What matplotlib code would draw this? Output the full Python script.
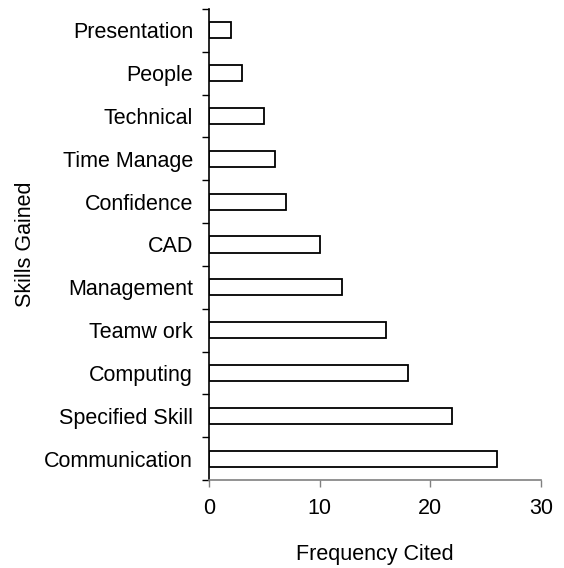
import numpy as np
import matplotlib.pyplot as plt

# --- DATA ---
skills = ["Communication", "Specified Skill", "Computing", "Teamw ork", "Management",
          "CAD", "Confidence", "Time Manage", "Technical", "People", "Presentation"]
freq = [26, 22, 18, 16, 12, 10, 7, 6, 5, 3, 2]

plt.rcParams['font.family'] = ['Liberation Sans', 'DejaVu Sans']

fig = plt.figure(figsize=(5.64, 5.68), dpi=100)
ax = fig.add_axes([209/564, 1-480/568, 332/564, 471/568])

y = np.arange(len(skills))
ax.barh(y, freq, height=0.375, color='white', edgecolor='black', linewidth=1.3)

ax.set_xlim(0, 30)
ax.set_ylim(-0.5, len(skills) - 0.5)
ax.set_xticks([0, 10, 20, 30])

# labels centred on bars, ticks between categories
ax.set_yticks(y)
ax.set_yticklabels(skills)
ax.set_yticks(np.arange(-0.5, len(skills), 1), minor=True)
ax.tick_params(axis='y', which='major', length=0, pad=11.5, labelsize=15.5)
ax.tick_params(axis='y', which='minor', length=5, width=1, color='black', direction='out')
ax.tick_params(axis='x', length=5, width=1, color='#808080', pad=8, labelsize=15.5)

for s in ['top', 'right']:
    ax.spines[s].set_visible(False)
ax.spines['left'].set_linewidth(1.2)
ax.spines['bottom'].set_color('#808080')
ax.spines['bottom'].set_linewidth(1.2)

ax.set_xlabel("Frequency Cited", fontsize=15.5, labelpad=18)
ax.set_ylabel("Skills Gained", fontsize=15.5)
ax.yaxis.set_label_coords(-(209 - 36) / 332, 0.5)

fig.savefig("out.png", dpi=100)
